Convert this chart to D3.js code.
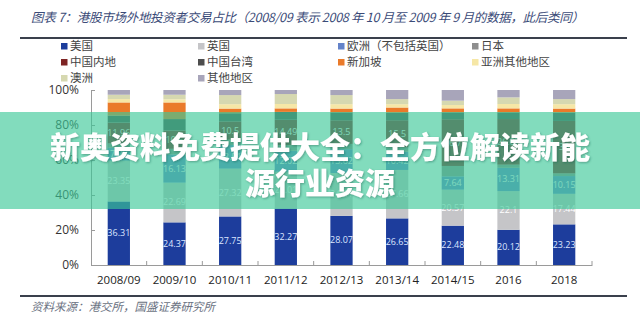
<!DOCTYPE html>
<html>
<head>
<meta charset="utf-8">
<script src="https://cdn.jsdelivr.net/npm/d3@7"></script>
<style>
  html, body { margin: 0; padding: 0; background: #fff; }
  svg { display: block; }
</style>
</head>
<body>
<svg id="chart" width="640" height="323"></svg>
<script>
// Survey years
const categories = ["2008/09", "2009/10", "2010/11", "2011/12", "2012/13", "2013/14", "2014/15", "2016", "2018"];

// Share of overseas investor turnover by origin (%), stacked bottom to top
const usShare        = [36.31, 24.37, 27.75, 32.27, 28.07, 26.65, 22.48, 20.12, 23.23];
const ukShare        = [23.35, 22.69, 27.32, 21.01, 24.51, 27.66, 20.57, 22.1, 17.44];
const europeShare    = [7.28, 16.13, 13.51, 12.02, 13.62, 10.42, 7.64, 13.31, 10.15];
const japanShare     = [2.5, 3.2, 3.0, 3.2, 3.0, 2.5, 5.9, 1.8, 1.5];
const mainlandShare  = [11.96, 10.5, 10.5, 14.49, 13.5, 15.5, 26.7, 26.07, 30.0];
const taiwanShare    = [4.0, 6.5, 4.62, 4.51, 4.5, 4.27, 3.91, 3.8, 4.78];
const singaporeShare = [7.5, 9.5, 2.7, 2.0, 2.2, 3.0, 2.3, 2.3, 2.3];
const otherAsiaShare = [1.9, 1.8, 2.5, 2.5, 2.5, 1.9, 1.9, 2.5, 2.5];
const australiaShare = [2.5, 2.6, 5.2, 5.7, 5.2, 2.9, 2.5, 3.8, 2.9];
const othersShare    = [2.7, 2.71, 2.9, 2.3, 2.9, 5.2, 6.1, 4.2, 5.2];

const seriesNames = ["美国", "英国", "欧洲（不包括英国）", "日本", "中国内地", "中国台湾", "新加坡", "亚洲其他地区", "澳洲", "其他地区"];
const seriesValues = [usShare, ukShare, europeShare, japanShare, mainlandShare, taiwanShare, singaporeShare, otherAsiaShare, australiaShare, othersShare];
const labelledSeries = ["美国", "英国", "欧洲（不包括英国）", "中国内地"];
const yTickValues = [0, 20, 40, 60, 80, 100];

const titleText = "图表 7：港股市场外地投资者交易占比（2008/09 表示 2008 年 10 月至 2009 年 9 月的数据，此后类同）";
const sourceText = "资料来源：港交所，国盛证券研究所";
const bannerLines = ["新奥资料免费提供大全：全方位解读新能", "源行业资源"];

// Series colours
const palette = ["#1d3d9c", "#c5c5c8", "#6483c9", "#8e8e8e", "#7e2424", "#4d4d4d", "#ea7a2a", "#f6e7a6", "#d6d8b0", "#a8a5ba"];
const labelColors = { "美国": "#dce6ff", "英国": "#ffffff", "欧洲（不包括英国）": "#eef3ff", "中国内地": "#eeeeee" };

const W = 640, H = 323;
const cjk = '"Noto Sans CJK SC", "Noto Sans", sans-serif';
const latin = '"Open Sans", "Noto Sans", sans-serif';

const svg = d3.select("#chart");
svg.append("rect").attr("width", W).attr("height", H).attr("fill", "#ffffff");

// Heading
svg.append("text")
  .attr("x", 31).attr("y", 22)
  .attr("font-family", cjk).attr("font-size", 12.5).attr("font-style", "italic")
  .attr("fill", "#3b4b78")
  .attr("textLength", 553).attr("lengthAdjust", "spacing")
  .text(titleText);
svg.append("line").attr("x1", 20).attr("x2", 627).attr("y1", 38).attr("y2", 38)
  .attr("stroke", "#3a404c").attr("stroke-width", 2);

// Legend, four per row
const legendCols = [64, 201, 341, 475];
const legendRows = [46, 62, 78];
const legend = svg.append("g").selectAll("g")
  .data(seriesNames)
  .join("g")
  .attr("transform", (d, i) => `translate(${legendCols[i % 4]},${legendRows[Math.floor(i / 4)]})`);
legend.append("rect").attr("x", -3).attr("y", -3).attr("width", 6.5).attr("height", 6.5)
  .attr("fill", (d, i) => palette[i]);
legend.append("text").attr("x", 6).attr("y", 4)
  .attr("font-family", cjk).attr("font-size", 11.5).attr("fill", "#444")
  .text(d => d);

// Scales
const x = d3.scaleBand().domain(categories).range([91, 592]).paddingInner(0.6).paddingOuter(0.3);
const y = d3.scaleLinear().domain([0, 100]).range([265, 90]);

// Stacked data
const rows = categories.map((c, j) => {
  const r = { category: c };
  seriesNames.forEach((s, i) => { r[s] = seriesValues[i][j]; });
  return r;
});
const stacked = d3.stack().keys(seriesNames)(rows);

const bars = svg.append("g");
bars.selectAll("g")
  .data(stacked)
  .join("g")
  .attr("fill", (d, i) => palette[i])
  .selectAll("rect")
  .data(d => d)
  .join("rect")
  .attr("x", d => x(d.data.category))
  .attr("width", x.bandwidth())
  .attr("y", d => y(d[1]))
  .attr("height", d => y(d[0]) - y(d[1]));

// Value labels
const labelGroup = svg.append("g");
stacked.filter(s => labelledSeries.includes(s.key)).forEach(s => {
  labelGroup.selectAll(null)
    .data(s)
    .join("text")
    .attr("x", d => x(d.data.category) + x.bandwidth() / 2)
    .attr("y", d => (y(d[0]) + y(d[1])) / 2 + 3)
    .attr("text-anchor", "middle")
    .attr("font-family", latin).attr("font-size", 9)
    .attr("fill", labelColors[s.key])
    .text(d => String(d.data[s.key]));
});

// Y axis
const yAxis = svg.append("g").attr("transform", "translate(91,0)")
  .call(d3.axisLeft(y).tickValues(yTickValues).tickFormat(d => d + "%").tickSizeInner(-4).tickSizeOuter(0).tickPadding(12));
yAxis.select(".domain").attr("stroke", "#9a9a9a");
yAxis.selectAll(".tick line").attr("stroke", "#9a9a9a");
yAxis.selectAll(".tick text").attr("font-family", latin).attr("font-size", 12).attr("fill", "#333");

// X axis with boundary ticks between categories
const xAxis = svg.append("g").attr("transform", "translate(0,265)")
  .call(d3.axisBottom(x).tickSize(0).tickPadding(11));
xAxis.select(".domain").attr("stroke", "#9a9a9a");
xAxis.selectAll(".tick text").attr("font-family", latin).attr("font-size", 11.5).attr("fill", "#222");
svg.append("g").selectAll("line")
  .data(categories)
  .join("line")
  .attr("x1", d => x(d) - x.step() * x.paddingInner() / 2 + x.step())
  .attr("x2", d => x(d) - x.step() * x.paddingInner() / 2 + x.step())
  .attr("y1", 265).attr("y2", 261)
  .attr("stroke", "#9a9a9a");

// Footer
svg.append("line").attr("x1", 20).attr("x2", 627).attr("y1", 296).attr("y2", 296)
  .attr("stroke", "#3a404c").attr("stroke-width", 2);
svg.append("text")
  .attr("x", 31).attr("y", 311)
  .attr("font-family", cjk).attr("font-size", 11.5).attr("font-style", "italic")
  .attr("fill", "#6b7282")
  .text(sourceText);

// Headline banner across the plot
const defs = svg.append("defs");
const shadow = defs.append("filter").attr("id", "soft-shadow").attr("x", "-5%").attr("y", "-20%").attr("width", "110%").attr("height", "140%");
shadow.append("feDropShadow").attr("dx", 1).attr("dy", 1).attr("stdDeviation", 1)
  .attr("flood-color", "#1d5a48").attr("flood-opacity", 0.45);

svg.append("rect").attr("x", 0).attr("y", 112).attr("width", W).attr("height", 97)
  .attr("fill", "rgb(60,200,152)").attr("fill-opacity", 0.64);
svg.append("g").selectAll("text")
  .data(bannerLines)
  .join("text")
  .attr("x", 320)
  .attr("y", (d, i) => 158 + i * 36)
  .attr("text-anchor", "middle")
  .attr("font-family", cjk).attr("font-weight", 900).attr("font-size", 30)
  .attr("fill", "#ffffff")
  .attr("filter", "url(#soft-shadow)")
  .text(d => d);
</script>
</body>
</html>
